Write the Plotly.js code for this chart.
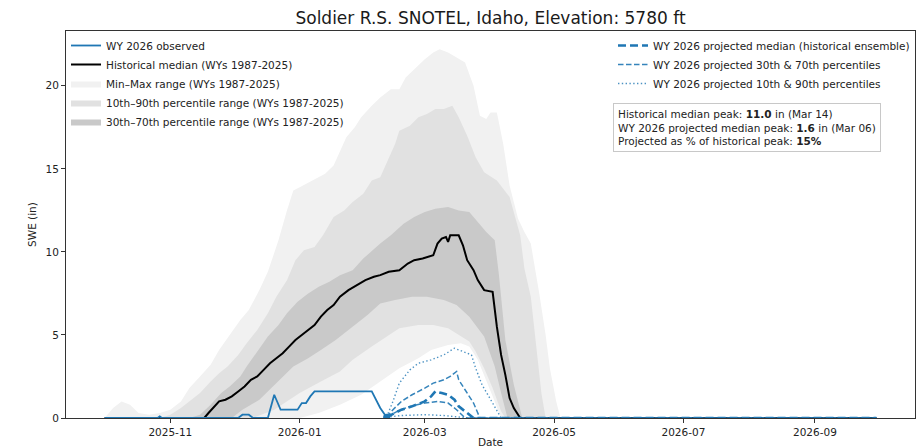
<!DOCTYPE html>
<html>
<head>
<meta charset="utf-8">
<script src="https://cdn.plot.ly/plotly-3.0.1.min.js"></script>
<style>html,body{margin:0;padding:0;background:#fff;}#chart{width:923px;height:448px;}</style>
</head>
<body>
<div id="chart"></div>
<script>
// ---------------- DATA ----------------
const chartTitle = 'Soldier R.S. SNOTEL, Idaho, Elevation: 5780 ft';
const xTickVals = ['2025-11-01','2026-01-01','2026-03-01','2026-05-01','2026-07-01','2026-09-01'];
const xTickText = ['2025-11','2026-01','2026-03','2026-05','2026-07','2026-09'];
const yTickVals = [0, 5, 10, 15, 20];

// Min-Max envelope (WYs 1987-2025)
const maxDates = ['2025-10-01','2025-10-05','2025-10-09','2025-10-13','2025-10-17','2025-10-22','2025-10-27','2025-11-01','2025-11-06','2025-11-10','2025-11-15','2025-11-20','2025-11-24','2025-11-28','2025-12-04','2025-12-08','2025-12-13','2025-12-17','2025-12-22','2025-12-26','2025-12-29','2026-01-01','2026-01-07','2026-01-13','2026-01-17','2026-01-20','2026-01-23','2026-01-27','2026-01-30','2026-02-04','2026-02-08','2026-02-13','2026-02-17','2026-02-20','2026-02-24','2026-03-01','2026-03-05','2026-03-08','2026-03-12','2026-03-16','2026-03-20','2026-03-24','2026-03-27','2026-03-30','2026-04-01','2026-04-04','2026-04-07','2026-04-10','2026-04-14','2026-04-17','2026-04-20','2026-04-24','2026-04-27','2026-04-29','2026-05-02','2026-05-04'];
const maxVals = [0,0.6,1.0,0.8,0.3,0.2,0.3,0.5,1.0,1.8,2.5,3.2,4.1,4.8,5.9,6.5,7.7,8.8,10.7,12.5,13.7,13.9,14.3,14.7,15.2,16.0,16.9,17.5,18.1,18.8,19.3,19.8,19.8,20.5,21.0,21.6,22.0,22.2,22.0,21.7,21.4,20.0,18.2,18.0,18.4,18.4,16.5,14.0,12.0,11.2,10.5,7.5,5.0,3.0,1.0,0];
const minDates = ['2026-01-01','2026-01-10','2026-01-20','2026-01-30','2026-02-08','2026-02-17','2026-02-26','2026-03-04','2026-03-12','2026-03-18','2026-03-22','2026-03-26','2026-03-30','2026-04-03','2026-04-06'];
const minVals = [0,0.3,0.8,1.4,2.2,3.0,3.6,4.1,4.4,4.5,4.3,3.5,2.3,1.0,0];

// 10th-90th percentile envelope
const p90Dates = ['2025-10-27','2025-11-01','2025-11-06','2025-11-10','2025-11-15','2025-11-20','2025-11-24','2025-11-28','2025-12-03','2025-12-07','2025-12-12','2025-12-17','2025-12-21','2025-12-26','2025-12-30','2026-01-03','2026-01-08','2026-01-12','2026-01-17','2026-01-22','2026-01-26','2026-01-31','2026-02-04','2026-02-08','2026-02-11','2026-02-15','2026-02-17','2026-02-22','2026-02-26','2026-03-02','2026-03-06','2026-03-10','2026-03-14','2026-03-17','2026-03-21','2026-03-25','2026-03-29','2026-04-04','2026-04-07','2026-04-10','2026-04-15','2026-04-17','2026-04-20','2026-04-23','2026-04-25','2026-04-27'];
const p90Vals = [0,0.2,0.6,1.0,1.5,2.2,2.7,3.1,3.8,4.5,5.3,6.3,7.3,8.3,9.5,10.1,10.3,11.0,12.1,12.5,13.0,13.5,14.3,14.5,15.4,16.5,17.3,17.6,18.1,18.3,18.6,18.6,18.8,18.1,17.0,15.7,14.8,14.3,13.8,13.3,11.0,9.0,7.3,4.0,1.5,0];
const p10Dates = ['2025-12-10','2025-12-20','2026-01-01','2026-01-11','2026-01-20','2026-01-26','2026-02-04','2026-02-11','2026-02-17','2026-02-26','2026-03-05','2026-03-12','2026-03-17','2026-03-22','2026-03-25','2026-03-29','2026-04-02','2026-04-06','2026-04-08'];
const p10Vals = [0,0.5,1.5,2.2,2.8,3.5,4.3,4.9,5.4,5.6,5.6,5.4,5.0,4.6,4.0,3.0,1.8,0.4,0];

// 30th-70th percentile envelope
const p70Dates = ['2025-11-10','2025-11-15','2025-11-20','2025-11-25','2025-11-29','2025-12-04','2025-12-07','2025-12-12','2025-12-17','2025-12-22','2025-12-26','2025-12-31','2026-01-05','2026-01-10','2026-01-15','2026-01-20','2026-01-26','2026-01-31','2026-02-08','2026-02-13','2026-02-19','2026-02-24','2026-03-01','2026-03-06','2026-03-12','2026-03-17','2026-03-22','2026-03-26','2026-03-30','2026-04-03','2026-04-05','2026-04-08','2026-04-12','2026-04-16'];
const p70Vals = [0,0.2,0.8,1.5,1.9,2.5,3.1,4.0,4.9,5.6,6.3,7.0,7.5,7.9,8.2,8.6,8.9,9.6,10.5,11.0,11.7,12.1,12.4,12.6,12.7,12.5,12.4,11.8,11.2,10.7,8.6,4.7,2.0,0];
const p30Dates = ['2025-11-30','2025-12-05','2025-12-13','2025-12-20','2025-12-29','2026-01-05','2026-01-11','2026-01-18','2026-01-26','2026-02-02','2026-02-08','2026-02-15','2026-02-23','2026-03-02','2026-03-10','2026-03-16','2026-03-22','2026-03-29','2026-04-03','2026-04-06','2026-04-09'];
const p30Vals = [0,0.5,1.1,2.0,3.1,3.6,4.1,4.7,5.5,6.2,6.9,7.1,7.3,7.3,7.1,6.8,6.1,4.9,3.1,1.5,0];

// Historical median
const medDates = ['2025-10-01','2025-11-17','2025-11-19','2025-11-21','2025-11-24','2025-11-27','2025-11-30','2025-12-03','2025-12-06','2025-12-09','2025-12-12','2025-12-15','2025-12-18','2025-12-21','2025-12-24','2025-12-27','2025-12-30','2026-01-02','2026-01-05','2026-01-08','2026-01-11','2026-01-14','2026-01-17','2026-01-20','2026-01-24','2026-01-28','2026-02-01','2026-02-05','2026-02-08','2026-02-12','2026-02-17','2026-02-21','2026-02-24','2026-02-28','2026-03-03','2026-03-05','2026-03-07','2026-03-09','2026-03-11','2026-03-12','2026-03-13','2026-03-14','2026-03-17','2026-03-19','2026-03-21','2026-03-24','2026-03-26','2026-03-29','2026-04-02','2026-04-04','2026-04-06','2026-04-08','2026-04-10','2026-04-12','2026-04-15','2026-09-30'];
const medVals = [0,0,0.3,0.6,1.0,1.1,1.3,1.6,1.9,2.3,2.5,2.9,3.3,3.6,3.9,4.3,4.7,5.0,5.3,5.6,6.1,6.5,6.8,7.3,7.7,8.0,8.3,8.5,8.6,8.8,8.9,9.3,9.5,9.6,9.7,9.8,10.5,10.8,10.9,10.6,11.0,11.0,11.0,10.4,9.5,8.9,8.3,7.7,7.6,5.5,3.8,2.6,1.2,0.6,0,0];

// WY 2026 observed
const obsDates = ['2025-10-01','2025-10-26','2025-10-27','2025-10-28','2025-12-03','2025-12-05','2025-12-08','2025-12-10','2025-12-17','2025-12-18','2025-12-20','2025-12-21','2025-12-23','2025-12-31','2026-01-02','2026-01-04','2026-01-06','2026-01-08','2026-02-04','2026-02-08','2026-02-11'];
const obsVals = [0,0,0.1,0,0,0.2,0.2,0,0,0.5,1.4,1.1,0.5,0.5,0.9,0.9,1.3,1.6,1.6,0.6,0.05];

// WY 2026 projections (historical ensemble)
const projMedDates = ['2026-02-11','2026-02-15','2026-02-18','2026-02-23','2026-03-01','2026-03-04','2026-03-06','2026-03-09','2026-03-12','2026-03-15','2026-03-17','2026-03-20','2026-03-24','2026-09-30'];
const projMedVals = [0.05,0.3,0.5,0.7,1.0,1.3,1.6,1.5,1.4,1.1,0.7,0.4,0,0];
const proj70Dates = ['2026-02-11','2026-02-14','2026-02-18','2026-02-23','2026-03-01','2026-03-05','2026-03-10','2026-03-13','2026-03-16','2026-03-17','2026-03-20','2026-03-24','2026-03-27','2026-09-30'];
const proj70Vals = [0.05,0.5,1.0,1.4,1.8,2.1,2.3,2.5,2.8,2.3,1.7,0.9,0,0];
const proj30Dates = ['2026-02-11','2026-02-16','2026-02-22','2026-03-01','2026-03-07','2026-03-12','2026-03-16','2026-03-20','2026-09-30'];
const proj30Vals = [0.05,0.4,0.7,0.9,1.0,0.9,0.5,0,0];
const proj90Dates = ['2026-02-11','2026-02-14','2026-02-17','2026-02-22','2026-02-26','2026-03-04','2026-03-10','2026-03-15','2026-03-19','2026-03-23','2026-03-25','2026-03-28','2026-04-02','2026-04-06','2026-09-30'];
const proj90Vals = [0.05,1.0,2.1,2.9,3.3,3.5,3.8,4.2,4.0,3.8,3.0,2.0,0.9,0,0];
const proj10Dates = ['2026-02-11','2026-02-18','2026-03-01','2026-03-10','2026-03-18','2026-03-22','2026-09-30'];
const proj10Vals = [0.05,0.15,0.2,0.15,0.05,0,0];

const statsLines = [
  'Historical median peak: <b>11.0</b> in (Mar 14)',
  'WY 2026 projected median peak: <b>1.6</b> in (Mar 06)',
  'Projected as % of historical peak: <b>15%</b>'
];

// ---------------- BUILD ----------------
function band(upX, upY, loX, loY) {
  return {x: upX.concat(loX.slice().reverse()), y: upY.concat(loY.slice().reverse())};
}
const BLUE = '#1f77b4';
const bMM = band(maxDates, maxVals, minDates, minVals);
const b1090 = band(p90Dates, p90Vals, p10Dates, p10Vals);
const b3070 = band(p70Dates, p70Vals, p30Dates, p30Vals);

const traces = [
  {x: bMM.x, y: bMM.y, type:'scatter', mode:'lines', fill:'toself', fillcolor:'#f1f1f1', line:{width:0, color:'#f1f1f1'}, name:'Min–Max range (WYs 1987-2025)', legend:'legend', legendrank:3},
  {x: b1090.x, y: b1090.y, type:'scatter', mode:'lines', fill:'toself', fillcolor:'#e1e1e1', line:{width:0, color:'#e1e1e1'}, name:'10th–90th percentile range (WYs 1987-2025)', legend:'legend', legendrank:4},
  {x: b3070.x, y: b3070.y, type:'scatter', mode:'lines', fill:'toself', fillcolor:'#c9c9c9', line:{width:0, color:'#c9c9c9'}, name:'30th–70th percentile range (WYs 1987-2025)', legend:'legend', legendrank:5},
  {x: medDates, y: medVals, type:'scatter', mode:'lines', line:{color:'#000', width:2}, name:'Historical median (WYs 1987-2025)', legend:'legend', legendrank:2},
  {x: obsDates, y: obsVals, type:'scatter', mode:'lines', line:{color:BLUE, width:1.8}, name:'WY 2026 observed', legend:'legend', legendrank:1},
  {x: proj90Dates, y: proj90Vals, type:'scatter', mode:'lines', line:{color:BLUE, width:1.4, dash:'1.4px,2.4px'}, opacity:0.8, name:'WY 2026 projected 10th & 90th percentiles', legend:'legend2', legendrank:3},
  {x: proj10Dates, y: proj10Vals, type:'scatter', mode:'lines', line:{color:BLUE, width:1.4, dash:'1.4px,2.4px'}, opacity:0.8, showlegend:false},
  {x: proj70Dates, y: proj70Vals, type:'scatter', mode:'lines', line:{color:BLUE, width:1.5, dash:'5.5px,2.5px'}, opacity:0.9, name:'WY 2026 projected 30th & 70th percentiles', legend:'legend2', legendrank:2},
  {x: proj30Dates, y: proj30Vals, type:'scatter', mode:'lines', line:{color:BLUE, width:1.5, dash:'5.5px,2.5px'}, opacity:0.9, showlegend:false},
  {x: projMedDates, y: projMedVals, type:'scatter', mode:'lines', line:{color:BLUE, width:2.6, dash:'8px,4px'}, name:'WY 2026 projected median (historical ensemble)', legend:'legend2', legendrank:1},
  {x: obsDates.slice(-1), y: obsVals.slice(-1), type:'scatter', mode:'markers', marker:{color:BLUE, size:7}, showlegend:false}
];

const axisCommon = {showline:true, linecolor:'#333', linewidth:1, mirror:true, ticks:'outside', ticklen:4, tickwidth:1, tickcolor:'#333', showgrid:false, zeroline:false, tickfont:{size:10.5, color:'#222'}};

const layout = {
  width:923, height:448,
  margin:{l:66, r:8, t:31, b:30},
  paper_bgcolor:'#fff', plot_bgcolor:'#fff',
  font:{family:'DejaVu Sans, sans-serif', size:10.5, color:'#222'},
  hovermode:false,
  title:{text:chartTitle, x:0.5, xref:'paper', xanchor:'center', y:1-18/448, yref:'container', yanchor:'middle', font:{size:17, color:'#1a1a1a'}},
  xaxis: Object.assign({}, axisCommon, {type:'date', range:['2025-09-12 19:00','2026-10-18 05:00'], tickmode:'array', tickvals:xTickVals, ticktext:xTickText, title:{text:'Date', standoff:4, font:{size:10.5}}}),
  yaxis: Object.assign({}, axisCommon, {range:[0,23.3], tickmode:'array', tickvals:yTickVals, title:{text:'SWE (in)', standoff:6, font:{size:10.5}}}),
  legend:{x:0, y:1, xanchor:'left', yanchor:'top', bgcolor:'rgba(255,255,255,0)', borderwidth:0, font:{size:10.5}, traceorder:'normal'},
  legend2:{x:1, y:1, xanchor:'right', yanchor:'top', bgcolor:'rgba(255,255,255,0)', borderwidth:0, font:{size:10.5}, traceorder:'normal'},
  annotations:[{
    xref:'paper', yref:'paper', x:0.644, y:0.814, xanchor:'left', yanchor:'top',
    text: statsLines.join('<br>'), align:'left', showarrow:false,
    bgcolor:'rgba(255,255,255,0.85)', bordercolor:'#c8c8c8', borderwidth:1, borderpad:4,
    font:{size:10.5, color:'#222'}
  }]
};

Plotly.newPlot('chart', traces, layout, {displayModeBar:false, staticPlot:true});
</script>
</body>
</html>
